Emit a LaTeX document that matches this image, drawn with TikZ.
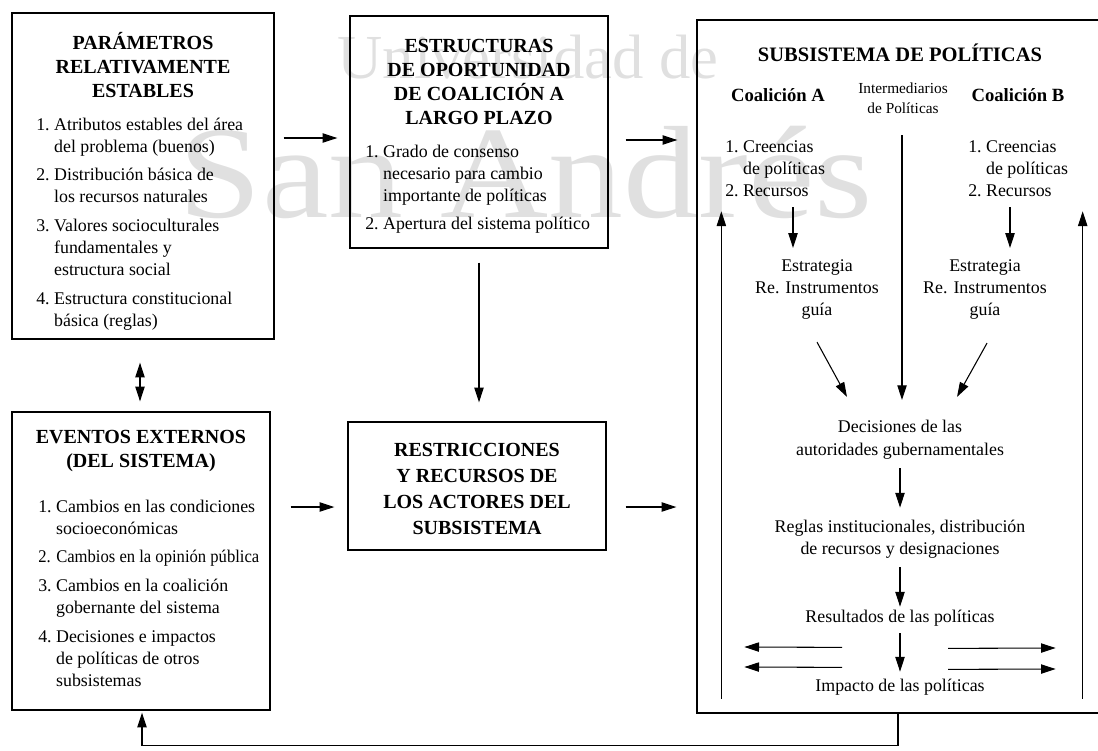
\documentclass[tikz,border=0pt]{standalone}
\usepackage{fontspec}
\setmainfont{Liberation Serif}
\usetikzlibrary{arrows.meta,calc}
\tikzset{
  frame/.style={draw, line width=1pt, inner sep=0pt},
  ttl/.style={font=\fontsize{15}{18}\selectfont\bfseries, align=center, inner sep=0pt},
  txt/.style={font=\fontsize{13.4}{16.5}\selectfont, align=center, inner sep=0pt},
  small/.style={font=\fontsize{11.5}{15}\selectfont, align=center, inner sep=0pt},
  lst/.style={font=\fontsize{13.4}{16.5}\selectfont, inner sep=0pt, anchor=base west},
  arr/.style={-{Triangle[length=11pt,width=7pt]}, line width=0.8pt},
  dblarr/.style={{Triangle[length=11pt,width=7pt]}-{Triangle[length=11pt,width=7pt]}, line width=0.8pt},
  wmark/.style={text=black!12, inner sep=0pt, anchor=base},
}
\newcommand{\numlist}[1]{\begin{tabular}[t]{@{}l@{\hspace{3.35pt}}l@{}}#1\end{tabular}}

\begin{document}
\begin{tikzpicture}[x=0.75pt,y=-0.75pt]
\useasboundingbox (0,0) rectangle (1098,750);

% faint background lettering
\node[wmark, font=\fontsize{47}{47}\selectfont] (wm1) at (528,78) {Universidad de};
\node[wmark, font=\fontsize{98.5}{98.5}\selectfont] (wm2) at (526,217) {\scalebox{1.14}[1]{San Andrés}};

% frames
\node[frame, minimum width=196.5pt, minimum height=244.5pt] (b1) at (143,176) {};
\node[frame, minimum width=193.5pt, minimum height=174pt] (b2) at (479,132) {};
\node[frame, minimum width=193.5pt, minimum height=223.5pt] (b4) at (141,561) {};
\node[frame, minimum width=193.5pt, minimum height=96pt] (b5) at (477,486) {};
\node[frame, minimum width=306pt, minimum height=519.75pt] (b3) at (901,366.5) {};

% stable parameters
\node[ttl] (t1) at (143,65) {PARÁMETROS\\RELATIVAMENTE\\ESTABLES};
\node[lst] (l1) at (36,130) {\numlist{%
1.&Atributos estables del área\\&del problema (buenos)\\[5pt]
2.&Distribución básica de\\&los recursos naturales\\[5pt]
3.&Valores socioculturales\\&fundamentales y\\&estructura social\\[5pt]
4.&Estructura constitucional\\&básica (reglas)}};

% long-term opportunity structures
\node[ttl] (t2) at (479,82) {ESTRUCTURAS\\DE OPORTUNIDAD\\DE COALICIÓN A\\LARGO PLAZO};
\node[lst] (l2) at (365,157) {\numlist{%
1.&Grado de consenso\\&necesario para cambio\\&importante de políticas\\[5pt]
2.&Apertura del sistema político}};

% external events
\node[ttl] (t4) at (141,451) {EVENTOS EXTERNOS\\(DEL SISTEMA)};
\node[lst] (l4) at (38,512) {\numlist{%
1.&Cambios en las condiciones\\&socioeconómicas\\[5pt]
\multicolumn{2}{@{}l@{}}{\scalebox{0.93}[1]{2. Cambios en la opinión pública}}\\[5pt]
3.&Cambios en la coalición\\&gobernante del sistema\\[5pt]
4.&Decisiones e impactos\\&de políticas de otros\\&subsistemas}};

% constraints and resources
\node[ttl, font=\fontsize{15}{19.5}\selectfont\bfseries] (t5) at (477,489) {RESTRICCIONES\\Y RECURSOS DE\\LOS ACTORES DEL\\SUBSISTEMA};

% policy subsystem
\node[ttl, font=\fontsize{15.4}{18}\selectfont\bfseries] (sub) at (900,53) {SUBSISTEMA DE POLÍTICAS};
\node[ttl, font=\fontsize{14}{17}\selectfont\bfseries] (coalA) at (778,95) {Coalición A};
\node[small] (inter) at (903,98) {Intermediarios\\de Políticas};
\node[ttl, font=\fontsize{14}{17}\selectfont\bfseries] (coalB) at (1018,95) {Coalición B};
\node[lst] (listA) at (725,152) {\numlist{1.&Creencias\\&de políticas\\2.&Recursos}};
\node[lst] (listB) at (968,152) {\numlist{1.&Creencias\\&de políticas\\2.&Recursos}};
\node[txt] (estA) at (817,290) {Estrategia\\Re. Instrumentos\\guía};
\node[txt] (estB) at (985,290) {Estrategia\\Re. Instrumentos\\guía};
\node[txt, font=\fontsize{13.4}{17.5}\selectfont] (dec) at (900,440) {Decisiones de las\\autoridades gubernamentales};
\node[txt] (reg) at (900,539) {Reglas institucionales, distribución\\de recursos y designaciones};
\node[txt] (res) at (900,618) {Resultados de las políticas};
\node[txt] (imp) at (900,687) {Impacto de las políticas};

% connectors between the frames
\draw[arr] ($(b1.east)+(9,-38)$) -- ($(b2.west)+(-12,6)$);
\draw[arr] ($(b2.east)+(17,8)$) -- ($(b3.west)+(-19,-226.5)$);
\draw[arr] ($(b2.south)+(0,14)$) -- ($(b5.north)+(2,-19)$);
\draw[dblarr] ($(b1.south)+(-3,23)$) -- ($(b4.north)+(-1,-10)$);
\draw[arr] ($(b4.east)+(20,-54)$) -- ($(b5.west)+(-13,21)$);
\draw[arr] ($(b5.east)+(19,21)$) -- ($(b3.west)+(-20,140.5)$);
\draw[arr] ($(b3.south)+(-3,0)$) -- ++(0,32) -| ($(b4.south)+(1,2)$);

% connectors inside the subsystem
\draw[arr] ($(listA.south west)+(68,4.4)$) -- ($(estA.north)+(-24,-12)$);
\draw[arr] ($(listB.south west)+(42,4.4)$) -- ($(estB.north)+(25,-12)$);
\draw[arr] ($(inter.south)+(-1,21.5)$) -- ($(dec.north)+(2,-20)$);
\draw[arr] ($(estA.south)+(0,22)$) -- ($(dec.north)+(-53,-23)$);
\draw[arr] ($(estB.south)+(2,23)$) -- ($(dec.north)+(57,-23)$);
\draw[arr] ($(dec.south)+(0,8)$) -- ($(reg.north)+(0,-12)$);
\draw[arr] ($(reg.south)+(0,9)$) -- ($(res.north)+(0,-3)$);
\draw[arr] ($(res.south)+(0,7)$) -- ($(imp.north)+(0,-7)$);
\draw[arr] ($(res.south)+(-58,21)$) -- ($(b3.west)+(48,280.5)$);
\draw[arr] ($(res.south)+(-58,41)$) -- ($(b3.west)+(48,300.5)$);
\draw[arr] ($(res.south)+(48,22)$) -- ($(b3.east)+(-50,281.5)$);
\draw[arr] ($(res.south)+(48,43)$) -- ($(b3.east)+(-50,302.5)$);
\draw[arr] ($(b3.south west)+(25,-15)$) -- ($(b3.north west)+(25,192)$);
\draw[arr] ($(b3.south east)+(-23,-15)$) -- ($(b3.north east)+(-23,192)$);
\end{tikzpicture}
\end{document}
